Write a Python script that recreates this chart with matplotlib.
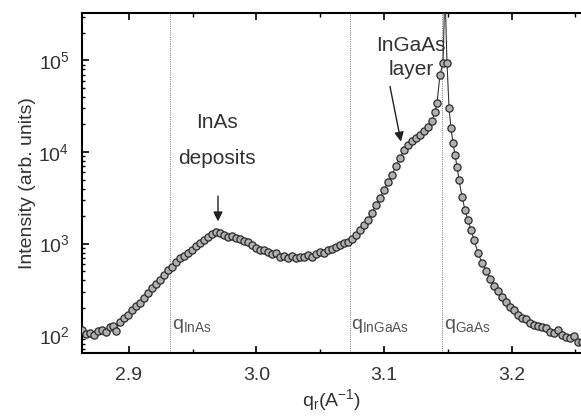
import numpy as np
import matplotlib
matplotlib.use("Agg")
import matplotlib.pyplot as plt

plt.rcParams['font.family'] = ['Liberation Sans', 'DejaVu Sans']
plt.rcParams['mathtext.fontset'] = 'custom'
plt.rcParams['mathtext.rm'] = 'Liberation Sans'
plt.rcParams['mathtext.it'] = 'Liberation Sans'

# scan data, q_r in 1/A and intensity in arb. units
q = [2.8631, 2.8663, 2.8694, 2.8725, 2.8757, 2.8788, 2.8820, 2.8851, 2.8875, 2.8898,
     2.8929, 2.8961, 2.8992, 2.9024, 2.9055, 2.9086, 2.9118, 2.9149, 2.9180, 2.9212,
     2.9243, 2.9275, 2.9306, 2.9337, 2.9369, 2.9400, 2.9431, 2.9463, 2.9494, 2.9525,
     2.9557, 2.9588, 2.9620, 2.9651, 2.9682, 2.9714, 2.9745, 2.9776, 2.9808, 2.9839,
     2.9871, 2.9902, 2.9933, 2.9965, 2.9996, 3.0027, 3.0059, 3.0090, 3.0122, 3.0153,
     3.0184, 3.0216, 3.0247, 3.0278, 3.0310, 3.0341, 3.0373, 3.0404, 3.0435, 3.0467,
     3.0498, 3.0529, 3.0561, 3.0592, 3.0624, 3.0655, 3.0686, 3.0718, 3.0749, 3.0780,
     3.0812, 3.0843, 3.0875, 3.0906, 3.0937, 3.0969, 3.1000, 3.1031, 3.1063, 3.1094,
     3.1125, 3.1157, 3.1188, 3.1220, 3.1251, 3.1282, 3.1314, 3.1345, 3.1376, 3.1400,
     3.1416, 3.1439, 3.1463, 3.1478, 3.1494, 3.1510, 3.1525, 3.1541, 3.1557, 3.1573,
     3.1588, 3.1612, 3.1635, 3.1659, 3.1682, 3.1706, 3.1737, 3.1769, 3.1800, 3.1831,
     3.1863, 3.1894, 3.1925, 3.1957, 3.1988, 3.2020, 3.2051, 3.2082, 3.2114, 3.2145,
     3.2176, 3.2208, 3.2239, 3.2271, 3.2302, 3.2333, 3.2365, 3.2396, 3.2427, 3.2459,
     3.2490, 3.2522, 3.2553]
intensity = [114.5, 103.5, 106, 101, 112, 114.5, 109, 123.5, 127, 112,
             140, 155, 167, 189, 209, 226, 256, 290, 329, 364,
             403, 456, 518, 558, 633, 700, 736, 794, 855, 946,
             1020, 1100, 1186, 1279, 1345, 1312, 1247, 1186, 1216, 1156,
             1128, 1074, 1047, 970, 900, 855, 855, 813, 774, 794,
             718, 736, 700, 736, 700, 718, 718, 755, 718, 774,
             813, 794, 855, 877, 923, 970, 1020, 1047, 1128, 1247,
             1415, 1604, 1820, 2170, 2655, 3162, 3865, 4730, 5635, 7065,
             8650, 10560, 11990, 13250, 14290, 15410, 17030, 18830, 21920, 27480,
             34450, 69700, 94200, 600000, 94200, 30400, 18360, 12600, 9310, 6890,
             4970, 3243, 2340, 1820, 1415, 1100, 794, 617, 505, 413,
             346, 305, 262, 231, 204, 189, 167, 155, 151, 136.5,
             130, 127, 123.5, 120.5, 109, 106, 114.5, 101, 96, 93.7,
             98.5, 84.7, 84.7]

ref_q = [2.932, 3.073, 3.1455]
ref_names = ['InAs', 'InGaAs', 'GaAs']

fig = plt.figure(figsize=(5.81, 4.18), dpi=100)
ax = fig.add_axes([0.141, 0.1555, 0.859, 0.8135])

for qq in ref_q:
    ax.axvline(qq, color='#888888', lw=0.8, ls=(0, (1, 1)), zorder=1)

ax.plot(q, intensity, '-', color='#333333', lw=0.8, marker='o', ms=5.2,
        mfc='#b0b0b0', mec='#2a2a2a', mew=0.9, zorder=3)

ax.set_yscale('log')
ax.set_xlim(2.8631, 3.2545)
ax.set_ylim(64, 3.3e5)
ax.set_xticks([2.9, 3.0, 3.1, 3.2])
ax.set_xticklabels(['2.9', '3.0', '3.1', '3.2'])
ax.set_xticks([2.95, 3.05, 3.15, 3.25], minor=True)
ax.tick_params(axis='x', which='both', direction='in', top=True, labelsize=14,
               labelcolor='#333333', pad=10)
ax.tick_params(axis='x', which='major', length=5, width=1.2)
ax.tick_params(axis='x', which='minor', length=3, width=1.0)
ax.tick_params(axis='y', which='both', direction='in', labelsize=14,
               labelcolor='#333333', pad=9)
ax.tick_params(axis='y', which='major', length=5, width=1.2)
ax.tick_params(axis='y', which='minor', length=2.5, width=1.0)
for s in ['left', 'bottom', 'top']:
    ax.spines[s].set_linewidth(1.5)
ax.spines['right'].set_visible(False)

ax.set_ylabel('Intensity (arb. units)', fontsize=14, color='#333333', labelpad=2)
ax.set_xlabel('q$_r$(A$^{-1}$)', fontsize=14, color='#333333', labelpad=2)

for qq, name in zip(ref_q, ref_names):
    ax.text(qq + 0.0015, 0.08, 'q$_{\\mathrm{' + name + '}}$', transform=ax.get_xaxis_transform(),
            fontsize=14, color='#555555', ha='left', va='center')

ax.text(2.9690, 0.679, 'InAs', transform=ax.get_xaxis_transform(), fontsize=15,
        color='#333333', ha='center', va='center')
ax.text(2.9690, 0.572, 'deposits', transform=ax.get_xaxis_transform(), fontsize=15,
        color='#333333', ha='center', va='center')
ax.annotate('', xy=(2.9698, 1750), xytext=(2.9698, 3300),
            arrowprops=dict(arrowstyle='-|>', color='#222222', lw=1.0,
                            mutation_scale=14, shrinkA=0, shrinkB=0))

ax.text(3.1210, 0.905, 'InGaAs', transform=ax.get_xaxis_transform(), fontsize=15,
        color='#333333', ha='center', va='center')
ax.text(3.1210, 0.835, 'layer', transform=ax.get_xaxis_transform(), fontsize=15,
        color='#333333', ha='center', va='center')
ax.annotate('', xy=(3.1133, 1.3e4), xytext=(3.1047, 5.2e4),
            arrowprops=dict(arrowstyle='-|>', color='#222222', lw=1.0,
                            mutation_scale=14, shrinkA=0, shrinkB=0))

fig.savefig('out.png', dpi=100)
